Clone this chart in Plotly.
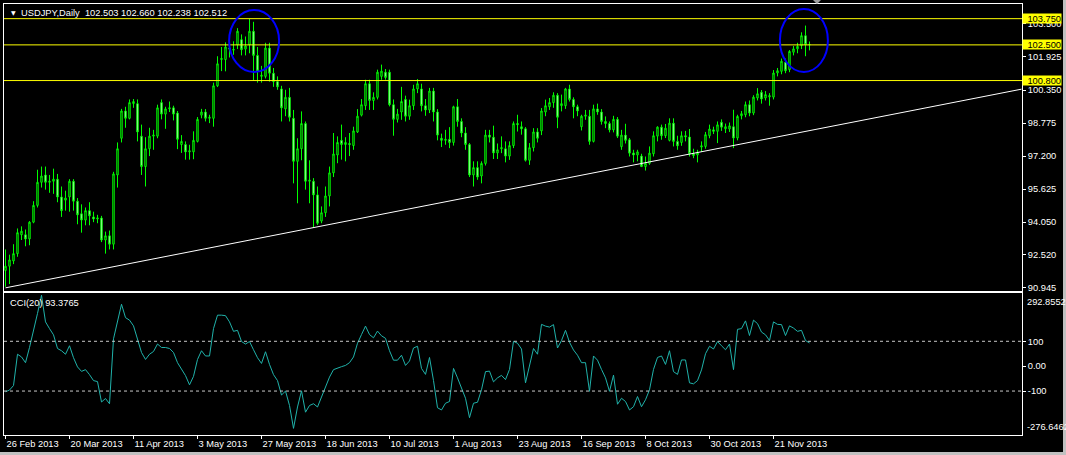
import plotly.graph_objects as go

# ---------------- data ----------------
DATE_LABELS = ["26 Feb 2013", "20 Mar 2013", "11 Apr 2013", "3 May 2013", "27 May 2013",
               "18 Jun 2013", "10 Jul 2013", "1 Aug 2013", "23 Aug 2013", "16 Sep 2013",
               "8 Oct 2013", "30 Oct 2013", "21 Nov 2013"]
LABEL_EVERY = 16  # bars between date labels

OPEN = [
    91.75, 91.95, 92.20, 92.55, 93.45, 93.45, 93.25, 94.05, 94.85, 95.95,
    96.30, 95.95, 96.00, 96.10, 95.25, 95.10, 95.25, 96.00, 95.05, 94.45,
    94.15, 94.60, 94.30, 94.20, 94.25, 93.20, 93.40, 93.00, 96.30, 98.05,
    99.35, 99.00, 99.70, 99.70, 98.15, 96.70, 97.55, 98.15, 98.15, 99.75,
    99.20, 99.45, 99.50, 99.25, 97.75, 97.75, 97.40, 97.40, 97.90, 99.15,
    99.30, 99.00, 99.00, 100.55, 101.80, 101.80, 102.35, 102.25, 102.50, 102.75,
    102.30, 102.50, 103.15, 102.00, 101.00, 101.00, 102.35, 101.15, 100.75, 100.40,
    99.45, 100.00, 99.00, 96.95, 97.55, 98.75, 96.00, 96.00, 95.35, 94.10,
    94.50, 95.30, 96.40, 97.25, 97.95, 97.75, 97.80, 97.70, 98.35, 99.15,
    99.60, 100.65, 99.85, 100.00, 101.00, 101.20, 101.20, 99.65, 98.95, 99.30,
    99.90, 99.10, 99.60, 100.40, 100.40, 99.60, 99.40, 100.30, 99.30, 98.05,
    97.95, 98.00, 97.85, 99.55, 98.85, 98.30, 97.75, 96.30, 96.65, 96.25,
    96.85, 98.20, 98.10, 97.35, 97.55, 97.55, 97.20, 97.70, 98.75, 98.60,
    98.50, 97.00, 97.60, 98.35, 98.40, 99.30, 99.55, 99.75, 100.10, 99.60,
    99.60, 100.40, 99.90, 99.55, 98.60, 99.10, 99.10, 97.90, 99.45, 99.30,
    98.85, 98.75, 98.45, 98.95, 97.65, 98.20, 97.98, 97.35, 97.25, 97.20,
    96.70, 96.85, 97.31, 98.15, 98.58, 98.17, 97.95, 98.77, 97.90, 97.85,
    98.17, 98.11, 97.31, 97.25, 97.63, 97.66, 98.17, 98.45, 98.38, 98.81,
    98.50, 98.49, 98.60, 98.06, 99.12, 99.17, 99.65, 99.25, 99.97, 100.24,
    99.97, 100.02, 100.01, 101.16, 101.24, 101.67, 101.32, 102.15, 102.31, 102.47,
    102.94, 102.503]
HIGH = [
    92.75, 92.50, 93.00, 93.75, 93.85, 93.70, 94.10, 95.05, 96.55, 96.70,
    96.70, 96.30, 96.60, 96.35, 95.75, 95.55, 96.10, 96.10, 95.20, 94.90,
    94.75, 95.00, 94.55, 94.40, 94.35, 93.60, 93.65, 96.45, 97.85, 99.45,
    99.55, 99.90, 99.92, 99.90, 98.70, 98.10, 98.55, 98.45, 99.65, 99.90,
    99.55, 99.80, 99.60, 99.35, 98.20, 97.90, 97.74, 98.38, 99.06, 99.45,
    99.44, 99.17, 100.70, 101.96, 102.40, 102.62, 102.60, 102.67, 103.30, 103.00,
    102.90, 103.74, 103.60, 102.40, 101.50, 102.60, 102.60, 101.40, 101.00, 100.55,
    100.36, 100.45, 99.40, 98.05, 99.33, 98.85, 97.00, 96.15, 95.75, 94.80,
    95.75, 96.70, 98.30, 98.14, 98.70, 98.10, 98.30, 98.60, 99.44, 99.92,
    100.84, 100.84, 100.24, 101.32, 101.56, 101.35, 101.32, 99.90, 99.45, 100.50,
    100.08, 99.89, 100.60, 100.87, 100.65, 99.92, 100.45, 100.45, 99.44, 98.27,
    98.45, 98.58, 99.60, 99.92, 99.00, 98.58, 97.82, 96.95, 96.95, 96.95,
    98.45, 98.45, 98.65, 97.80, 98.14, 97.90, 97.90, 98.85, 99.17, 98.85,
    98.58, 97.82, 98.53, 98.53, 99.49, 99.89, 99.97, 100.24, 100.20, 100.13,
    100.45, 100.60, 100.00, 99.65, 99.17, 99.40, 99.40, 99.65, 99.70, 99.44,
    99.09, 98.85, 99.12, 99.06, 98.45, 98.74, 98.06, 97.50, 97.50, 97.31,
    97.18, 97.66, 98.38, 98.62, 98.70, 98.73, 99.00, 99.00, 98.17, 98.38,
    98.40, 98.49, 97.55, 97.50, 97.90, 98.35, 98.70, 98.60, 98.85, 98.95,
    98.75, 98.80, 99.41, 99.17, 99.35, 99.80, 99.85, 100.10, 100.44, 100.35,
    100.30, 100.20, 101.30, 101.40, 101.85, 101.85, 102.25, 102.45, 102.60, 103.10,
    103.42, 102.660]
LOW = [
    90.97, 91.10, 92.05, 92.40, 93.20, 92.90, 92.95, 94.00, 94.75, 95.70,
    95.60, 95.45, 95.40, 95.00, 94.30, 94.60, 94.55, 94.60, 93.95, 93.55,
    93.90, 93.90, 94.05, 94.00, 93.10, 92.55, 92.75, 92.75, 95.70, 97.85,
    98.55, 98.95, 99.50, 97.90, 96.30, 95.75, 97.20, 97.50, 98.05, 98.95,
    98.50, 99.30, 98.90, 97.53, 97.35, 97.03, 97.03, 97.05, 97.85, 99.00,
    98.85, 98.77, 98.60, 100.49, 101.25, 101.24, 101.90, 102.03, 102.30, 102.00,
    102.00, 102.10, 100.80, 100.70, 100.70, 100.90, 100.75, 100.50, 100.36, 98.85,
    99.10, 98.85, 95.90, 94.95, 97.00, 95.60, 94.95, 93.80, 93.92, 94.00,
    94.30, 94.80, 96.20, 96.86, 97.03, 96.95, 97.20, 97.50, 98.30, 99.09,
    99.40, 99.40, 99.40, 99.90, 100.84, 100.84, 99.57, 98.17, 98.80, 98.93,
    98.85, 98.93, 99.40, 100.20, 99.33, 99.12, 99.25, 98.85, 97.95, 97.63,
    97.74, 97.58, 97.70, 98.60, 98.10, 97.50, 96.20, 95.75, 96.07, 95.90,
    96.75, 97.85, 97.06, 97.06, 97.34, 96.90, 97.02, 97.58, 98.37, 98.22,
    96.94, 96.78, 97.42, 97.85, 98.20, 99.10, 99.40, 99.50, 98.53, 99.33,
    99.45, 99.80, 99.00, 99.10, 98.42, 98.93, 97.74, 97.85, 99.17, 98.70,
    98.53, 98.33, 98.33, 98.06, 97.50, 97.80, 97.18, 96.90, 96.95, 96.69,
    96.51, 96.78, 97.18, 97.90, 97.98, 98.06, 97.90, 97.66, 97.50, 97.69,
    97.90, 97.18, 97.10, 96.90, 97.40, 97.55, 98.05, 98.25, 97.82, 98.40,
    98.30, 98.35, 97.58, 97.95, 98.95, 99.05, 99.10, 99.15, 99.85, 99.70,
    99.85, 99.60, 99.90, 101.00, 101.10, 101.15, 101.20, 102.00, 102.10, 102.30,
    101.96, 102.238]
CLOSE = [
    91.95, 92.25, 92.55, 93.55, 93.62, 93.25, 94.05, 94.85, 95.95, 96.25,
    95.95, 96.00, 96.10, 95.25, 94.60, 95.20, 96.00, 95.05, 94.40, 94.15,
    94.60, 94.35, 94.20, 94.25, 93.20, 93.40, 93.00, 96.35, 97.55, 99.35,
    99.00, 99.75, 99.80, 98.35, 96.70, 97.55, 98.15, 98.20, 99.50, 99.20,
    99.45, 99.50, 99.20, 98.00, 97.90, 97.40, 97.45, 97.95, 98.95, 99.30,
    99.00, 99.05, 100.55, 101.60, 101.85, 102.40, 102.30, 102.28, 103.15, 102.27,
    102.45, 103.15, 102.00, 101.25, 101.05, 102.35, 101.15, 100.75, 100.50, 99.50,
    100.00, 99.05, 96.95, 97.55, 98.75, 96.00, 96.05, 95.35, 94.00, 94.50,
    95.30, 96.40, 97.30, 97.85, 97.75, 97.85, 97.75, 98.40, 99.10, 99.65,
    100.65, 99.85, 100.00, 101.20, 101.25, 100.95, 99.65, 98.95, 99.20, 99.80,
    99.10, 99.60, 100.40, 100.65, 99.60, 99.40, 100.30, 99.30, 98.20, 97.95,
    98.00, 97.85, 99.55, 98.85, 98.30, 97.75, 96.30, 96.65, 96.20, 96.85,
    98.20, 98.10, 97.35, 97.50, 97.60, 97.20, 97.70, 98.75, 98.70, 98.50,
    97.00, 97.60, 98.35, 98.05, 99.35, 99.60, 99.75, 100.10, 99.05, 99.70,
    100.40, 99.90, 99.55, 99.35, 99.10, 99.15, 97.90, 99.45, 99.30, 98.85,
    98.75, 98.45, 98.95, 98.15, 98.20, 97.95, 97.34, 97.25, 97.40, 96.70,
    96.85, 97.34, 98.17, 98.58, 98.17, 98.53, 98.77, 97.90, 97.69, 98.17,
    98.12, 97.31, 97.23, 97.37, 97.69, 98.22, 98.49, 98.38, 98.69, 98.58,
    98.60, 98.64, 98.06, 99.09, 99.22, 99.65, 99.25, 100.01, 100.17, 99.92,
    100.13, 100.08, 101.16, 101.27, 101.72, 101.27, 102.19, 102.31, 102.43, 102.94,
    102.51, 102.512]
CCI = [
    -103, -96, -78, 48, 37, 14, 75, 140, 212, 285,
    178, 151, 126, 71, 62, 48, 82, 34, -3, -21,
    -14, -34, -58, -62, -144, -130, -151, 110, 178, 249,
    195, 185, 162, 110, 55, 27, 48, 59, 89, 75,
    75, 71, 55, 14, -11, -38, -75, -41, 27, 62,
    41, 41, 151, 205, 205, 203, 178, 140, 144, 99,
    89, 99, 66, 34, 11, 58, 7, -34, -58, -116,
    -100, -158, -250, -164, -99, -185, -158, -151, -164, -123,
    -85, -44, -14, -7, -2, 3, 14, 37, 92, 127,
    161, 127, 114, 141, 122, 112, 62, 24, 24, 44,
    3, 21, 73, 80, -9, -33, 35, -58, -167, -176,
    -149, -142, -9, -47, -88, -129, -207, -149, -145, -95,
    -22, -20, -63, -47, -37, -54, -13, 100, 92, 69,
    -67, 7, 71, 48, 168, 161, 157, 167, 73, 103,
    144, 96, 65, 44, 14, 14, -101, 41, 24, -13,
    -47, -101, -36, -153, -129, -142, -176, -163, -122, -163,
    -135, -95, -13, 35, 41, 7, 62, -22, -33, 25,
    25, -67, -71, -58, -15, 50, 80, 69, 99, 82,
    66, 89, -14, 148, 151, 182, 123, 185, 171, 137,
    126, 103, 178, 168, 167, 123, 162, 153, 140, 144,
    103, 93.3765]

PRICE_TICKS = [90.945, 92.520, 94.050, 95.625, 97.200, 98.775, 100.350, 101.925, 103.500]
PRICE_RANGE = [90.769, 104.449]
CCI_TICKS = [100, 0, -100]
CCI_TICK_TEXT = ["100", "0.00", "-100"]
CCI_MAX = 292.8552
CCI_MIN = -276.6462
CCI_LEVELS = [100, -100]
H_LINES = [103.750, 102.500, 100.800]
TREND_X = [0, 254]
TREND_Y = [90.92, 100.39]
CIRCLES = [  # (bar0, bar1, price_low, price_high)
    (55.9, 68.4, 101.21, 104.16),
    (193.6, 205.6, 101.21, 104.21),
]
HEADER = "USDJPY,Daily\u00a0 102.503 102.660 102.238 102.512"
CCI_LABEL = "CCI(20) 93.3765"

assert len(OPEN) == len(HIGH) == len(LOW) == len(CLOSE) == len(CCI)

# ---------------- styling / layout ----------------
W, H = 1066, 455
PL, PR, PT, PB = 4, 1022, 4, 435  # plot area in pixels
FONT = "Liberation Sans, Arial, sans-serif"
FS = 9.3
LIME = "#00FF00"
WHITE = "#FFFFFF"
FRAME = "#C0C0C0"


def fx(px):
    return (px - PL) / (PR - PL)


def fy(py):
    return (PB - py) / (PB - PT)


idx = list(range(len(CLOSE)))
XR = [-0.375, -0.375 + (PR - PL) / 4.0]

fig = go.Figure()
fig.add_trace(go.Candlestick(
    x=idx, open=OPEN, high=HIGH, low=LOW, close=CLOSE,
    increasing=dict(line=dict(color=LIME, width=1), fillcolor="#000000"),
    decreasing=dict(line=dict(color=LIME, width=1), fillcolor="#FFFFFF"),
    whiskerwidth=0, xaxis="x", yaxis="y", hoverinfo="skip", showlegend=False))
fig.add_trace(go.Scatter(
    x=idx, y=CCI, mode="lines", line=dict(color="#20B2AA", width=1),
    xaxis="x2", yaxis="y2", hoverinfo="skip", showlegend=False))

axis_common = dict(showgrid=False, zeroline=False, showline=True, linecolor=WHITE,
                   linewidth=1, mirror=True, fixedrange=True)
tickfont = dict(family=FONT, size=FS, color=WHITE)

shapes = []
for v in H_LINES:
    shapes.append(dict(type="line", xref="x domain", yref="y", x0=0, x1=1, y0=v, y1=v,
                       line=dict(color="#FFFF00", width=1)))
shapes.append(dict(type="line", xref="x", yref="y", x0=TREND_X[0], x1=TREND_X[1],
                   y0=TREND_Y[0], y1=TREND_Y[1], line=dict(color=WHITE, width=1)))
for b0, b1, p0, p1 in CIRCLES:
    shapes.append(dict(type="circle", xref="x", yref="y", x0=b0, x1=b1, y0=p0, y1=p1,
                       line=dict(color="#0000FF", width=2)))
for v in CCI_LEVELS:
    shapes.append(dict(type="line", xref="x2 domain", yref="y2", x0=0, x1=1, y0=v, y1=v,
                       line=dict(color="#C8C8C8", width=1, dash="3px,3px")))
# chart-shift marker at top
shapes.append(dict(type="path", xref="paper", yref="paper",
                   path=f"M {fx(813)} {fy(0)} L {fx(821)} {fy(0)} L {fx(817)} {fy(4)} Z",
                   fillcolor="#A0A0A0", line=dict(width=0)))
# window frame (right and bottom edges)
shapes.append(dict(type="rect", xref="paper", yref="paper", x0=fx(1063), x1=fx(1066),
                   y0=fy(455), y1=fy(0), fillcolor=FRAME, line=dict(width=0), layer="above"))
shapes.append(dict(type="rect", xref="paper", yref="paper", x0=fx(0), x1=fx(1066),
                   y0=fy(455), y1=fy(452), fillcolor=FRAME, line=dict(width=0), layer="above"))

annotations = [
    dict(xref="paper", yref="paper", x=fx(9), y=fy(13), text="\u25BC", showarrow=False,
         xanchor="left", yanchor="middle", font=dict(family="DejaVu Sans", size=6, color=WHITE)),
    dict(xref="paper", yref="paper", x=fx(19), y=fy(13), text=HEADER, showarrow=False,
         xanchor="left", yanchor="middle", font=dict(family=FONT, size=FS, color=WHITE)),
    dict(xref="paper", yref="paper", x=fx(8), y=fy(302.5), text=CCI_LABEL, showarrow=False,
         xanchor="left", yanchor="middle", font=dict(family=FONT, size=FS, color=WHITE)),
    dict(xref="paper", yref="y2", x=1, y=CCI_MAX, text=f"{CCI_MAX:.4f}", showarrow=False,
         xanchor="left", yanchor="top", xshift=3, yshift=-2, font=tickfont),
    dict(xref="paper", yref="y2", x=1, y=CCI_MIN, text=f"{CCI_MIN:.4f}", showarrow=False,
         xanchor="left", yanchor="bottom", xshift=3, yshift=1, font=tickfont),
]
for v in H_LINES:
    annotations.append(dict(xref="paper", yref="y", x=1, y=v, text=f"{v:.3f}", showarrow=False,
                            xanchor="left", yanchor="middle", bgcolor="#FFFF00", borderpad=0,
                            width=38, height=9, align="right", valign="middle",
                            font=dict(family=FONT, size=FS, color="#000000")))

fig.update_layout(
    width=W, height=H,
    margin=dict(l=PL, r=W - PR, t=PT, b=H - PB, pad=0, autoexpand=False),
    paper_bgcolor="#000000", plot_bgcolor="#000000",
    showlegend=False, boxgap=0.5,
    xaxis=dict(domain=[0, 1], range=XR, anchor="y", showticklabels=False, ticks="",
               rangeslider=dict(visible=False), **axis_common),
    xaxis2=dict(domain=[0, 1], range=XR, anchor="y2", tickmode="array",
                tickvals=[k * LABEL_EVERY for k in range(len(DATE_LABELS))],
                ticktext=DATE_LABELS, ticks="outside", ticklen=3, tickcolor=WHITE,
                ticklabelposition="outside right", tickfont=tickfont, **axis_common),
    yaxis=dict(domain=[fy(291), 1], range=PRICE_RANGE, anchor="x", side="right",
               tickmode="array", tickvals=PRICE_TICKS,
               ticktext=[f"{v:.3f}" for v in PRICE_TICKS], ticks="outside", ticklen=3,
               tickcolor=WHITE, tickfont=tickfont, **axis_common),
    yaxis2=dict(domain=[0, fy(293.3)], range=[CCI_MIN, CCI_MAX], anchor="x2", side="right",
                tickmode="array", tickvals=CCI_TICKS, ticktext=CCI_TICK_TEXT,
                ticks="outside", ticklen=3, tickcolor=WHITE, tickfont=tickfont, **axis_common),
    shapes=shapes, annotations=annotations,
)

fig.write_html("out.html", config={"displayModeBar": False, "staticPlot": True},
               post_script="document.body.style.margin='0';document.body.style.background='#000';")
